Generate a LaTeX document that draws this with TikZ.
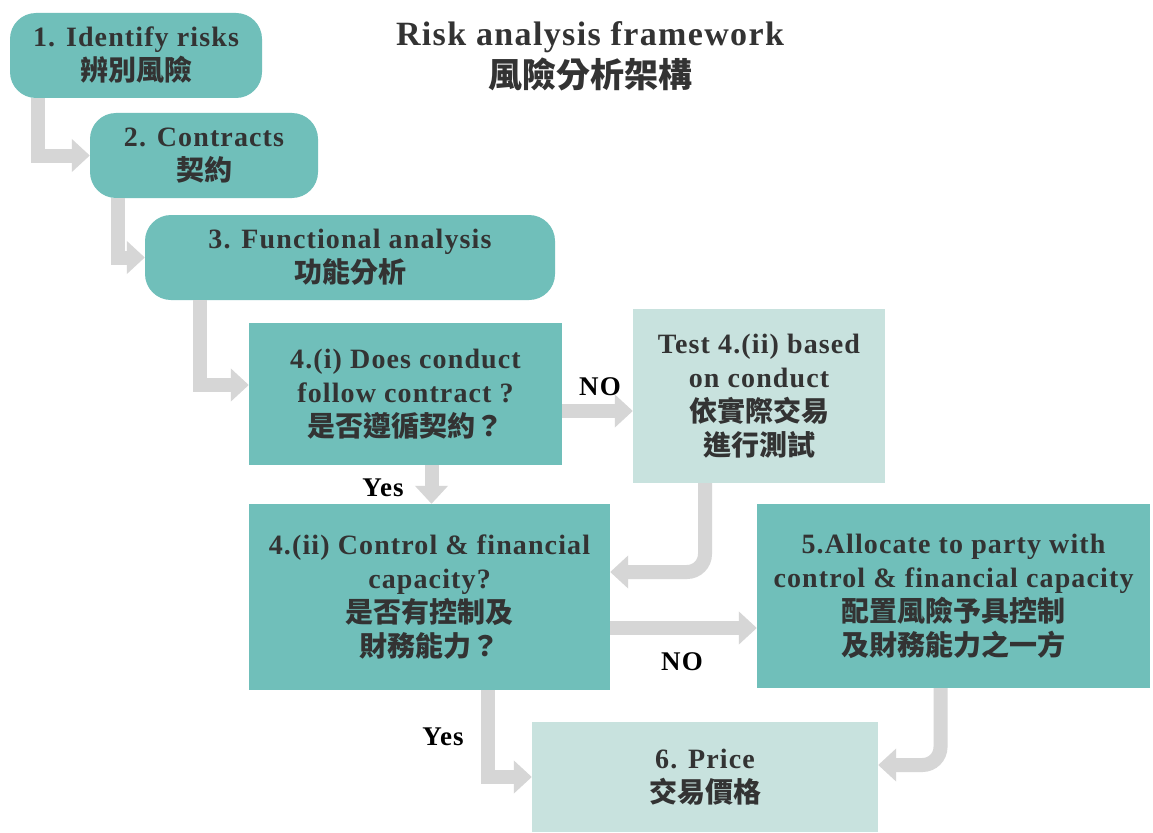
\documentclass[tikz,border=0pt]{standalone}
\usepackage{fontspec}
\setmainfont{Liberation Serif}[LetterSpace=4]
\newfontfamily\cjk{Noto Sans CJK TC}
\usetikzlibrary{arrows.meta}
\definecolor{tealbox}{HTML}{70BFBA}
\definecolor{lightbox}{HTML}{C8E2DE}
\definecolor{arrowg}{HTML}{D6D6D6}
\definecolor{txt}{HTML}{333333}
\newcommand\zh[1]{{\cjk\bfseries\fontsize{28}{34}\selectfont #1}}
\begin{document}
\begin{tikzpicture}[x=1pt,y=-1pt,
  box/.style={fill=tealbox, text=txt, align=center, inner sep=0pt,
    font=\bfseries\fontsize{28}{34}\selectfont},
  rbox/.style={box, rounded corners=26pt},
  lbox/.style={box, fill=lightbox},
  flow/.style={draw=arrowg, line width=14pt, -{Triangle[width=32pt,length=18pt]}},
  rflow/.style={flow, rounded corners=18pt},
  lab/.style={text=black, font=\bfseries\fontsize{27}{30}\selectfont}]
\useasboundingbox (0,0) rectangle (1153,832);
\fill[white] (0,0) rectangle (1153,832);

% title
\node[text=txt, align=center, font=\bfseries\fontsize{34}{42}\selectfont] (title) at (590,56)
  {Risk analysis framework\\{\cjk\bfseries\fontsize{34}{42}\selectfont 風險分析架構}};

% boxes
\node[rbox, minimum width=252pt, minimum height=85pt] (b1) at (136,55.5)
  {1. Identify risks\\\zh{辨別風險}};
\node[rbox, minimum width=228pt, minimum height=85pt] (b2) at (204,155.5)
  {2. Contracts\\\zh{契約}};
\node[rbox, minimum width=410pt, minimum height=85pt] (b3) at (350,257.5)
  {3. Functional analysis\\\zh{功能分析}};
\node[box, minimum width=313pt, minimum height=142pt] (b4i) at (405.5,394)
  {4.(i) Does conduct\\follow contract ?\\\zh{是否遵循契約？}};
\node[lbox, minimum width=252pt, minimum height=174pt] (bt) at (759,396)
  {Test 4.(ii) based\\on conduct\\\zh{依實際交易}\\\zh{進行測試}};
\node[box, minimum width=361pt, minimum height=186pt] (b4ii) at (429.5,597)
  {4.(ii) Control \& financial\\capacity?\\\zh{是否有控制及}\\\zh{財務能力？}};
\node[box, minimum width=393pt, minimum height=184pt] (b5) at (953.5,596)
  {5.Allocate to party with\\control \& financial capacity\\\zh{配置風險予具控制}\\\zh{及財務能力之一方}};
\node[lbox, minimum width=346pt, minimum height=110pt] (b6) at (705,777)
  {6. Price\\\zh{交易價格}};

% connectors
\draw[flow] ([xshift=28pt]b1.south west) |- (b2.west);
\draw[flow] ([xshift=28pt]b2.south west) |- (b3.west);
\draw[flow] ([xshift=55pt]b3.south west) |- ([yshift=9pt]b4i.west);
\draw[flow] ([yshift=-17pt]b4i.east) -- ([yshift=-17pt]b4i.east -| bt.west);
\draw[flow] ([xshift=26pt]b4i.south) -- ([xshift=26pt]b4i.south |- b4ii.north);
\draw[rflow] ([xshift=-54pt]bt.south) |- ([yshift=25pt]b4ii.east);
\draw[flow] ([yshift=-31pt]b4ii.east) -- ([yshift=-31pt]b4ii.east -| b5.west);
\draw[flow] ([xshift=58.5pt]b4ii.south) |- (b6.west);
\draw[rflow] ([xshift=-13pt]b5.south) |- ([yshift=12pt]b6.east);

% labels
\node[lab] (no1) at (600,387) {NO};
\node[lab] (yes1) at (383,488) {Yes};
\node[lab] (no2) at (682,662) {NO};
\node[lab] (yes2) at (443,737) {Yes};
\end{tikzpicture}
\end{document}
